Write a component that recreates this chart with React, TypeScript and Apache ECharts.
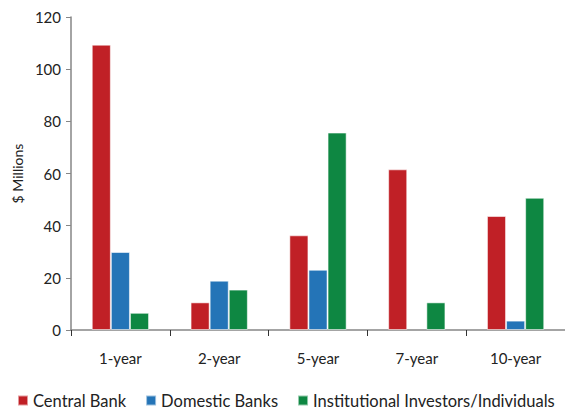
import React, { useEffect, useRef } from "react";
import * as echarts from "echarts";

const categories = ["1-year", "2-year", "5-year", "7-year", "10-year"];
const centralBank = [109.4, 10.6, 36.3, 61.6, 43.7];
const domesticBanks = [29.9, 18.9, 23.1, 0, 3.6];
const institutional = [6.6, 15.5, 75.7, 10.6, 50.7];
const seriesNames = ["Central Bank", "Domestic Banks", "Institutional Investors/Individuals"];
const colors = ["#C02026", "#2474B7", "#0E8742"];

const FONT = "Lato, 'Open Sans', sans-serif";

export default function App() {
  const ref = useRef<HTMLDivElement>(null);
  useEffect(() => {
    if (!ref.current) return;
    const chart = echarts.init(ref.current, undefined, { renderer: "svg" });
    const mk = (name: string, data: number[], color: string) => ({
      name,
      type: "bar",
      data: data.map((v) => (v === 0 ? null : v)),
      barGap: "0%",
      barCategoryGap: "42%",
      itemStyle: { color, borderColor: "rgba(255,255,255,0.55)", borderWidth: 1 },
    });
    chart.setOption({
      animation: false,
      backgroundColor: "#ffffff",
      textStyle: { fontFamily: FONT },
      grid: { left: 71, right: 0, top: 17, bottom: 81, containLabel: false },
      legend: {
        left: 17,
        top: 392,
        padding: 0,
        itemWidth: 10,
        itemHeight: 10,
        itemGap: 19,
        icon: "rect",
        textStyle: { fontFamily: FONT, fontSize: 16.5, color: "#222222" },
        data: seriesNames,
      },
      xAxis: {
        type: "category",
        data: categories,
        axisLine: { lineStyle: { color: "#868686", width: 1.5 } },
        axisTick: { show: true, length: 6, lineStyle: { color: "#333333" } },
        axisLabel: { fontFamily: FONT, fontSize: 15, color: "#222222", margin: 20 },
      },
      yAxis: {
        type: "value",
        min: 0,
        max: 120,
        interval: 20,
        name: "$ Millions",
        nameLocation: "middle",
        nameGap: 47,
        nameTextStyle: { fontFamily: FONT, fontSize: 14, color: "#222222" },
        axisLine: { show: true, lineStyle: { color: "#868686", width: 1.5 } },
        axisTick: { show: true, length: 5, lineStyle: { color: "#868686" } },
        axisLabel: { fontFamily: FONT, fontSize: 15, color: "#222222", margin: 10 },
        splitLine: { show: false },
      },
      series: [
        mk(seriesNames[0], centralBank, colors[0]),
        mk(seriesNames[1], domesticBanks, colors[1]),
        mk(seriesNames[2], institutional, colors[2]),
      ],
    });
    return () => chart.dispose();
  }, []);
  return <div ref={ref} style={{ width: 565, height: 411, position: "absolute", left: 0, top: 0 }} />;
}
